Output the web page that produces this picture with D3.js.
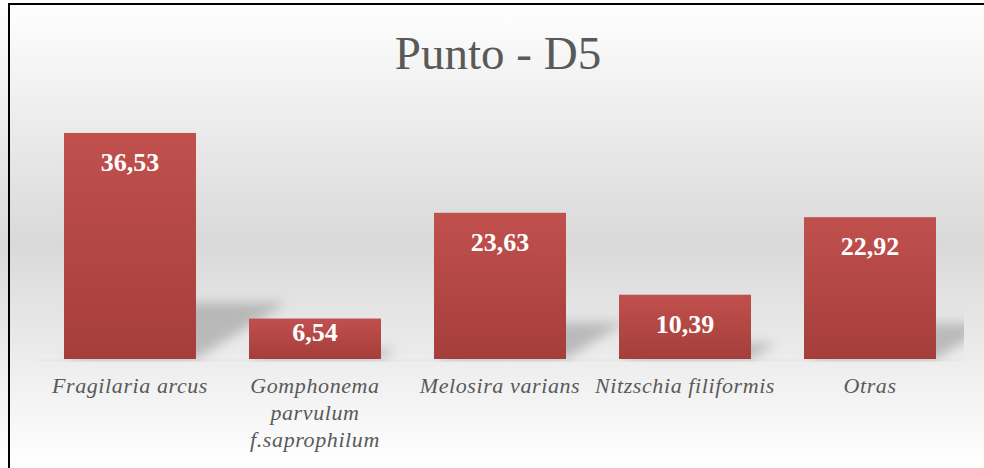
<!DOCTYPE html>
<html>
<head>
<meta charset="utf-8">
<script src="https://cdn.jsdelivr.net/npm/d3@7"></script>
<style>
  body { margin: 0; background: #fff; }
  svg { display: block; }
</style>
</head>
<body>
<script>
// ==== chart data ====
var title = "Punto - D5";
var categories = ["Fragilaria arcus", "Gomphonema parvulum f.saprophilum", "Melosira varians", "Nitzschia filiformis", "Otras"];
var values = [36.53, 6.54, 23.63, 10.39, 22.92];
var valueLabels = ["36,53", "6,54", "23,63", "10,39", "22,92"];

var width = 984, height = 468;
var baseY = 359;

var svg = d3.select("body").append("svg")
    .attr("width", width)
    .attr("height", height);

var defs = svg.append("defs");

// background gradient (white -> grey -> white)
var bg = defs.append("linearGradient").attr("id", "bg")
    .attr("x1", 0).attr("y1", 0).attr("x2", 0).attr("y2", 1);
bg.append("stop").attr("offset", "0%").attr("stop-color", "#ffffff");
bg.append("stop").attr("offset", "52%").attr("stop-color", "#d9d9d9");
bg.append("stop").attr("offset", "100%").attr("stop-color", "#ffffff");

// bar gradient
var barGrad = defs.append("linearGradient").attr("id", "barGrad")
    .attr("x1", 0).attr("y1", 0).attr("x2", 0).attr("y2", 1);
barGrad.append("stop").attr("offset", "0%").attr("stop-color", "#c0504d");
barGrad.append("stop").attr("offset", "100%").attr("stop-color", "#a53e3b");

defs.append("filter").attr("id", "blur")
    .attr("x", "-50%").attr("y", "-50%").attr("width", "200%").attr("height", "200%")
  .append("feGaussianBlur").attr("stdDeviation", 6);

defs.append("clipPath").attr("id", "plotClip")
  .append("rect").attr("x", 37).attr("y", 0).attr("width", 927).attr("height", 362);

svg.append("rect")
    .attr("x", 0).attr("y", 0)
    .attr("width", width).attr("height", height)
    .attr("fill", "url(#bg)");

// chart border
svg.append("rect")
    .attr("x", 9).attr("y", 4)
    .attr("width", width + 20).attr("height", height + 20)
    .attr("fill", "none")
    .attr("stroke", "#000")
    .attr("stroke-width", 2);

// scales
var x = d3.scaleBand()
    .domain(categories)
    .range([37.5, 962.5])
    .paddingInner(0.2865)
    .paddingOuter(0.1432);

var y = d3.scaleLinear()
    .domain([0, 40])
    .range([baseY, baseY - 247.5]);

var data = categories.map(function(c, i) {
  return { cat: c, value: values[i], label: valueLabels[i] };
});

// light strip under the plot
svg.append("rect")
    .attr("x", 37).attr("y", baseY)
    .attr("width", 927).attr("height", 2)
    .attr("fill", "#e8e8e8");

// perspective shadows behind bars
var shadows = svg.append("g").attr("clip-path", "url(#plotClip)")
  .append("g").attr("filter", "url(#blur)");

shadows.selectAll("path")
    .data(data)
  .enter().append("path")
    .attr("fill", "#8c8c8c")
    .attr("opacity", 0.5)
    .attr("d", function(d) {
      var x0 = x(d.cat), x1 = x0 + x.bandwidth();
      var h = baseY - y(d.value);
      var dy = h * 0.25, dx = h * 0.4;
      return "M" + x0 + "," + baseY +
             "L" + x1 + "," + baseY +
             "L" + (x1 + dx) + "," + (baseY - dy) +
             "L" + (x0 + dx) + "," + (baseY - dy) + "Z";
    });

// bars
svg.selectAll(".bar")
    .data(data)
  .enter().append("rect")
    .attr("class", "bar")
    .attr("x", function(d) { return x(d.cat); })
    .attr("y", function(d) { return y(d.value); })
    .attr("width", x.bandwidth())
    .attr("height", function(d) { return baseY - y(d.value); })
    .attr("fill", "url(#barGrad)");

// value labels
svg.selectAll(".val")
    .data(data)
  .enter().append("text")
    .attr("class", "val")
    .attr("x", function(d) { return x(d.cat) + x.bandwidth() / 2; })
    .attr("y", function(d) { return Math.min(y(d.value) + 38, baseY - 18); })
    .attr("text-anchor", "middle")
    .style("font-family", "'Liberation Serif', 'Times New Roman', serif")
    .style("font-weight", "bold")
    .style("font-size", "26px")
    .style("fill", "#fff")
    .text(function(d) { return d.label; });

// title
svg.append("text")
    .attr("x", 498)
    .attr("y", 69)
    .attr("text-anchor", "middle")
    .style("font-family", "'Liberation Serif', 'Times New Roman', serif")
    .style("font-size", "47px")
    .style("fill", "#595959")
    .text(title);

// category labels, wrapped to the band width
var catLabels = svg.selectAll(".cat")
    .data(data)
  .enter().append("text")
    .attr("class", "cat")
    .attr("x", function(d) { return x(d.cat) + x.bandwidth() / 2; })
    .attr("y", 393)
    .attr("text-anchor", "middle")
    .style("font-family", "'Liberation Serif', 'Times New Roman', serif")
    .style("font-style", "italic")
    .style("font-size", "22px")
    .style("letter-spacing", "0.6px")
    .style("fill", "#595959");

catLabels.each(function(d) {
  var text = d3.select(this);
  var words = d.cat.split(" ");
  var cx = text.attr("x");
  var line = [];
  var tspan = text.append("tspan").attr("x", cx).attr("dy", 0);
  words.forEach(function(w) {
    line.push(w);
    tspan.text(line.join(" "));
    if (tspan.node().getComputedTextLength() > x.step() - 4 && line.length > 1) {
      line.pop();
      tspan.text(line.join(" "));
      line = [w];
      tspan = text.append("tspan").attr("x", cx).attr("dy", 27).text(w);
    }
  });
});
</script>
</body>
</html>
